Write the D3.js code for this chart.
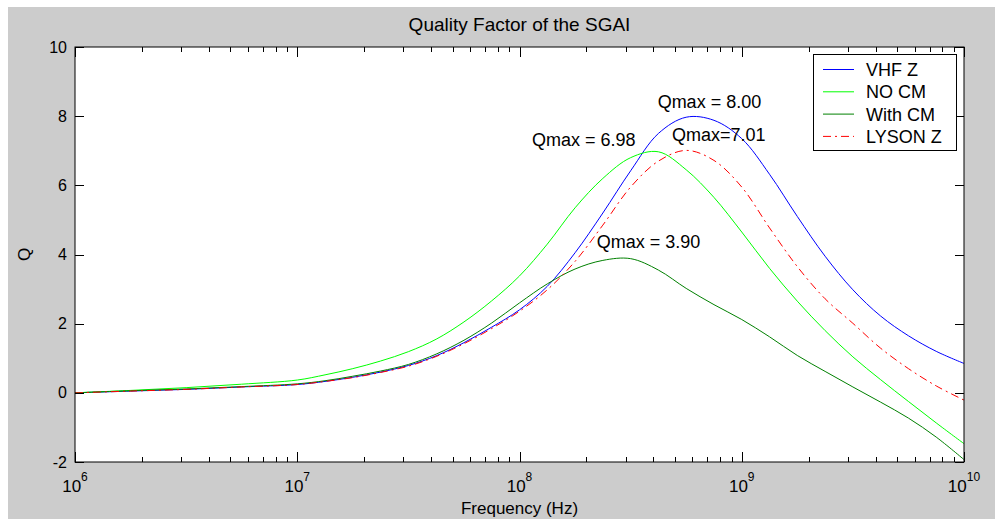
<!DOCTYPE html>
<html>
<head>
<meta charset="utf-8">
<script src="https://cdn.jsdelivr.net/npm/d3@7"></script>
<style>
  body { margin: 0; background: #fff; }
  svg text { font-family: "Liberation Sans", Arial, sans-serif; fill: #000; }
</style>
</head>
<body>
<div id="chart"></div>
<script>
// frequency samples (log10 of Hz)
const freqExp = [6, 6.25, 6.5, 6.75, 7, 7.125, 7.25, 7.375, 7.5, 7.625, 7.75, 7.875, 8, 8.125, 8.25, 8.375, 8.5, 8.625, 8.75, 8.875, 9, 9.125, 9.25, 9.375, 9.5, 9.625, 9.75, 9.875, 10];

const vhfZ   = [0, 0.05, 0.1, 0.17, 0.24, 0.33, 0.45, 0.6, 0.79, 1.07, 1.45, 1.9, 2.4, 3.08, 4.05, 5.2, 6.42, 7.5, 7.97, 7.88, 7.35, 6.32, 5.1, 3.95, 2.98, 2.22, 1.65, 1.2, 0.85];
const noCm   = [0, 0.07, 0.15, 0.25, 0.37, 0.52, 0.7, 0.92, 1.19, 1.55, 2.05, 2.66, 3.38, 4.3, 5.35, 6.2, 6.8, 6.97, 6.45, 5.65, 4.65, 3.6, 2.65, 1.8, 1.04, 0.38, -0.25, -0.87, -1.47];
const withCm = [0, 0.06, 0.11, 0.18, 0.26, 0.35, 0.48, 0.63, 0.82, 1.12, 1.52, 2.02, 2.6, 3.15, 3.58, 3.83, 3.88, 3.55, 3.02, 2.55, 2.12, 1.62, 1.08, 0.62, 0.17, -0.27, -0.73, -1.28, -1.93];
const lysonZ = [0, 0.05, 0.1, 0.17, 0.24, 0.33, 0.44, 0.59, 0.77, 1.05, 1.42, 1.86, 2.36, 2.98, 3.8, 4.85, 5.95, 6.7, 7.01, 6.72, 5.95, 4.77, 3.65, 2.72, 2.01, 1.29, 0.7, 0.2, -0.21];

const seriesNames = ['VHF Z', 'NO CM', 'With CM', 'LYSON Z'];
const yTicks = [-2, 0, 2, 4, 6, 8, 10];
const xDecades = [6, 7, 8, 9, 10];

// annotations: [label, log10 f, Q]
const notes = [
  ['Qmax = 8.00', 8.797, 8.00],
  ['Qmax = 6.98', 8.578, 6.98],
  ['Qmax=7.01', 8.74, 7.01],
  ['Qmax = 3.90', 8.46, 3.90]
];

const width = 995;
const height = 519;
const margin = { top: 47, right: 31, bottom: 57, left: 75 };

const svg = d3.select('#chart')
  .append('svg')
  .attr('width', width)
  .attr('height', height);

// figure background (grey, with a thin white frame top/left)
svg.append('rect')
  .attr('x', 8).attr('y', 7)
  .attr('width', width - 8).attr('height', height - 7)
  .attr('fill', '#cccccc');

const x = d3.scaleLog()
  .domain([1e6, 1e10])
  .range([margin.left, width - margin.right]);

const y = d3.scaleLinear()
  .domain([-2, 10])
  .range([height - margin.bottom, margin.top]);

const x0 = x.range()[0], x1 = x.range()[1];
const y0 = y.range()[0], y1 = y.range()[1];

svg.append('rect')
  .attr('x', x0).attr('y', y1)
  .attr('width', x1 - x0).attr('height', y0 - y1)
  .attr('fill', '#fff');

// clip for the curves
svg.append('clipPath').attr('id', 'plotclip')
  .append('rect')
  .attr('x', x0).attr('y', y1)
  .attr('width', x1 - x0).attr('height', y0 - y1);

const freqs = freqExp.map(e => Math.pow(10, e));
const allSeries = [vhfZ, noCm, withCm, lysonZ];
const colors = ['#0000ff', '#00ff00', '#008000', '#ff0000'];
const dashes = [null, null, null, '8,4,2,4'];

const line = d3.line()
  .x((d, i) => x(freqs[i]))
  .y(d => y(d))
  .curve(d3.curveCatmullRom.alpha(0.5));

svg.append('g')
  .attr('clip-path', 'url(#plotclip)')
  .selectAll('path')
  .data(allSeries)
  .join('path')
  .attr('d', d => line(d))
  .attr('fill', 'none')
  .attr('stroke', (d, i) => colors[i])
  .attr('stroke-width', 1)
  .attr('stroke-dasharray', (d, i) => dashes[i]);

// axes box and ticks (matlab style, ticks pointing inward)
const axes = svg.append('g').attr('stroke', '#000').attr('stroke-width', 1);

axes.append('rect')
  .attr('x', x0).attr('y', y1)
  .attr('width', x1 - x0).attr('height', y0 - y1)
  .attr('fill', 'none');

const minorTicks = [];
xDecades.slice(0, -1).forEach(e => {
  for (let k = 2; k <= 9; k++) minorTicks.push(k * Math.pow(10, e));
});

xDecades.forEach(e => {
  const px = Math.round(x(Math.pow(10, e))) + 0.5;
  axes.append('line').attr('x1', px).attr('x2', px).attr('y1', y0).attr('y2', y0 - 10);
  axes.append('line').attr('x1', px).attr('x2', px).attr('y1', y1).attr('y2', y1 + 10);
});
minorTicks.forEach(f => {
  const px = Math.round(x(f)) + 0.5;
  axes.append('line').attr('x1', px).attr('x2', px).attr('y1', y0).attr('y2', y0 - 5);
  axes.append('line').attr('x1', px).attr('x2', px).attr('y1', y1).attr('y2', y1 + 5);
});
yTicks.forEach(t => {
  const py = Math.round(y(t)) + 0.5;
  axes.append('line').attr('x1', x0).attr('x2', x0 + 9).attr('y1', py).attr('y2', py);
  axes.append('line').attr('x1', x1).attr('x2', x1 - 9).attr('y1', py).attr('y2', py);
});

// y tick labels
svg.append('g')
  .selectAll('text')
  .data(yTicks)
  .join('text')
  .attr('x', x0 - 8)
  .attr('y', d => y(d))
  .attr('dy', '0.35em')
  .attr('text-anchor', 'end')
  .style('font-size', '16px')
  .text(d => d);

// x tick labels: 10 with exponent
const xl = svg.append('g')
  .selectAll('text')
  .data(xDecades)
  .join('text')
  .attr('x', d => x(Math.pow(10, d)))
  .attr('y', 492)
  .attr('text-anchor', 'middle')
  .style('font-size', '17px');
xl.append('tspan').text('10');
xl.append('tspan')
  .attr('dy', -11)
  .style('font-size', '12px')
  .text(d => d);

// title and axis labels
svg.append('text')
  .attr('x', (x0 + x1) / 2)
  .attr('y', 31)
  .attr('text-anchor', 'middle')
  .style('font-size', '19px')
  .text('Quality Factor of the SGAI');

svg.append('text')
  .attr('x', (x0 + x1) / 2)
  .attr('y', 514)
  .attr('text-anchor', 'middle')
  .style('font-size', '17px')
  .text('Frequency (Hz)');

svg.append('text')
  .attr('transform', `translate(30, ${(y0 + y1) / 2}) rotate(-90)`)
  .attr('text-anchor', 'middle')
  .style('font-size', '17px')
  .text('Q');

// peak annotations
const noteOffsets = [[-39, -8], [-116, -5], [-12, -9], [-25, -10]];
svg.append('g')
  .selectAll('text')
  .data(notes)
  .join('text')
  .attr('x', (d, i) => x(Math.pow(10, d[1])) + noteOffsets[i][0])
  .attr('y', (d, i) => y(d[2]) + noteOffsets[i][1])
  .style('font-size', '18px')
  .text(d => d[0]);

// legend
const legend = svg.append('g').attr('transform', 'translate(813,54)');
legend.append('rect')
  .attr('x', 0.5).attr('y', 0.5)
  .attr('width', 143).attr('height', 96)
  .attr('fill', '#fff')
  .attr('stroke', '#000');

const rows = legend.selectAll('g.row')
  .data(seriesNames)
  .join('g')
  .attr('class', 'row')
  .attr('transform', (d, i) => `translate(0, ${15.5 + i * 22.3})`);
rows.append('line')
  .attr('x1', 10).attr('x2', 41)
  .attr('stroke', (d, i) => colors[i])
  .attr('stroke-dasharray', (d, i) => dashes[i]);
rows.append('text')
  .attr('x', 53)
  .attr('dy', '0.36em')
  .style('font-size', '18px')
  .text(d => d);
</script>
</body>
</html>
